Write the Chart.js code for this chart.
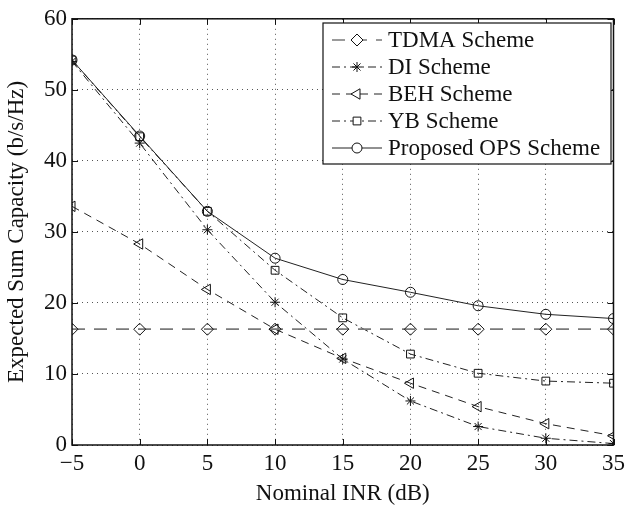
<!DOCTYPE html>
<html>
<head>
<meta charset="utf-8">
<script src="https://cdn.jsdelivr.net/npm/chart.js@4.4.0/dist/chart.umd.min.js"></script>
<style>
  html, body { margin: 0; padding: 0; background: #fff; }
  #wrap { width: 630px; height: 508px; }
</style>
</head>
<body>
<div id="wrap"><canvas id="capacityChart" width="630" height="508"></canvas></div>
<script>
// x axis values (nominal INR in dB)
const inrValues = [-5, 0, 5, 10, 15, 20, 25, 30, 35];
const yTicks = [0, 10, 20, 30, 40, 50, 60];

// expected sum capacity
const tdmaValues = [16.3, 16.3, 16.3, 16.3, 16.3, 16.3, 16.3, 16.3, 16.3];
const diValues   = [54.0, 42.5, 30.3, 20.1, 12.1, 6.2, 2.6, 0.95, 0.2];
const behValues  = [33.6, 28.3, 21.9, 16.3, 12.2, 8.7, 5.4, 3.0, 1.3];
const ybValues   = [54.2, 43.4, 32.9, 24.6, 17.9, 12.8, 10.1, 9.0, 8.7];
const opsValues  = [54.2, 43.5, 32.9, 26.3, 23.3, 21.5, 19.6, 18.4, 17.8];

const serif = "'Liberation Serif', 'DejaVu Serif', serif";
const fontSize = 23;

function toPoints(vals) {
    return vals.map((v, i) => ({ x: inrValues[i], y: v }));
}

function makeSet(label, vals, color, dash, style, radius, rotation, width) {
    return {
        label: label,
        data: toPoints(vals),
        borderColor: color,
        borderWidth: width || 1,
        borderDash: dash,
        pointStyle: style,
        pointRadius: radius,
        pointRotation: rotation || 0,
        pointBorderColor: '#111',
        pointBackgroundColor: 'rgba(0,0,0,0)',
        pointBorderWidth: 1,
        fill: false,
        tension: 0
    };
}

const datasets = [
    makeSet('TDMA Scheme', tdmaValues, '#7a7a7a', [13, 9], 'rectRot', 6, 0, 1.7),
    makeSet('DI Scheme', diValues, '#222', [8, 4, 2, 4], 'star', 5),
    makeSet('BEH Scheme', behValues, '#222', [8, 6], 'triangle', 6, -90),
    makeSet('YB Scheme', ybValues, '#222', [8, 4, 2, 4], 'rect', 5.5),
    makeSet('Proposed OPS Scheme', opsValues, '#222', [], 'circle', 5)
];

// inward ticks and the plot box, matlab style
const boxTicks = {
    id: 'boxTicks',
    afterDraw(chart) {
        const ctx = chart.ctx;
        const a = chart.chartArea;
        const xs = chart.scales.x, ys = chart.scales.y;
        ctx.save();
        ctx.strokeStyle = '#111';
        ctx.lineWidth = 1;
        ctx.setLineDash([]);
        inrValues.forEach(v => {
            const px = Math.round(xs.getPixelForValue(v)) + 0.5;
            ctx.beginPath();
            ctx.moveTo(px, a.bottom); ctx.lineTo(px, a.bottom - 6);
            ctx.moveTo(px, a.top); ctx.lineTo(px, a.top + 6);
            ctx.stroke();
        });
        yTicks.forEach(v => {
            const py = Math.round(ys.getPixelForValue(v)) + 0.5;
            ctx.beginPath();
            ctx.moveTo(a.left, py); ctx.lineTo(a.left + 6, py);
            ctx.moveTo(a.right, py); ctx.lineTo(a.right - 6, py);
            ctx.stroke();
        });
        ctx.lineWidth = 1.5;
        ctx.strokeRect(a.left, a.top, a.right - a.left, a.bottom - a.top);
        ctx.restore();
    }
};

// legend box drawn inside the plot, top right
const boxLegend = {
    id: 'boxLegend',
    afterDraw(chart) {
        const ctx = chart.ctx;
        const left = 323, top = 23, w = 288, h = 141;
        ctx.save();
        ctx.fillStyle = '#fff';
        ctx.fillRect(left, top, w, h);
        ctx.strokeStyle = '#111';
        ctx.lineWidth = 1.2;
        ctx.setLineDash([]);
        ctx.strokeRect(left, top, w, h);
        ctx.font = fontSize + 'px ' + serif;
        ctx.textBaseline = 'middle';
        chart.data.datasets.forEach((ds, i) => {
            const y = 40 + i * 27;
            ctx.strokeStyle = ds.borderColor;
            ctx.lineWidth = ds.borderWidth;
            ctx.setLineDash(ds.borderDash);
            ctx.beginPath();
            ctx.moveTo(332, y); ctx.lineTo(382, y);
            ctx.stroke();
            ctx.setLineDash([]);
            // marker: white inside, dark outline
            ctx.strokeStyle = '#111';
            ctx.fillStyle = '#fff';
            ctx.lineWidth = 1;
            Chart.helpers.drawPoint(ctx, {
                pointStyle: ds.pointStyle,
                radius: ds.pointRadius,
                rotation: ds.pointRotation,
                borderWidth: 1
            }, 357, y);
            ctx.fillStyle = '#111';
            ctx.fillText(ds.label, 388, y + 1);
        });
        ctx.restore();
    }
};

const ctx = document.getElementById('capacityChart').getContext('2d');
const capacityChart = new Chart(ctx, {
    type: 'line',
    data: { datasets: datasets },
    options: {
        responsive: false,
        animation: false,
        layout: { padding: { top: 15, right: 11, left: 0, bottom: 0 } },
        plugins: {
            legend: { display: false },
            tooltip: { enabled: false }
        },
        scales: {
            x: {
                type: 'linear',
                min: -5,
                max: 35,
                afterBuildTicks: scale => { scale.ticks = inrValues.map(v => ({ value: v })); },
                afterFit: scale => { scale.height = 63; },
                ticks: {
                    color: '#111',
                    font: { family: serif, size: fontSize },
                    padding: 5,
                    maxRotation: 0,
                    callback: v => v < 0 ? '\u2212' + Math.abs(v) : String(v)
                },
                grid: {
                    color: '#555',
                    lineWidth: 1,
                    drawTicks: false
                },
                border: { display: false, dash: [1, 4] },
                title: {
                    display: true,
                    text: 'Nominal INR (dB)',
                    color: '#111',
                    font: { family: serif, size: fontSize },
                    padding: { top: 0, bottom: 0 }
                }
            },
            y: {
                min: 0,
                max: 60,
                afterBuildTicks: scale => { scale.ticks = yTicks.map(v => ({ value: v })); },
                afterFit: scale => { scale.width = 72; },
                ticks: {
                    color: '#111',
                    font: { family: serif, size: fontSize },
                    padding: 5
                },
                grid: {
                    color: '#555',
                    lineWidth: 1,
                    drawTicks: false
                },
                border: { display: false, dash: [1, 4] },
                title: {
                    display: true,
                    text: 'Expected Sum Capacity (b/s/Hz)',
                    color: '#111',
                    font: { family: serif, size: fontSize },
                    padding: { top: 3, bottom: 0 }
                }
            }
        }
    },
    plugins: [boxTicks, boxLegend]
});
</script>
</body>
</html>
